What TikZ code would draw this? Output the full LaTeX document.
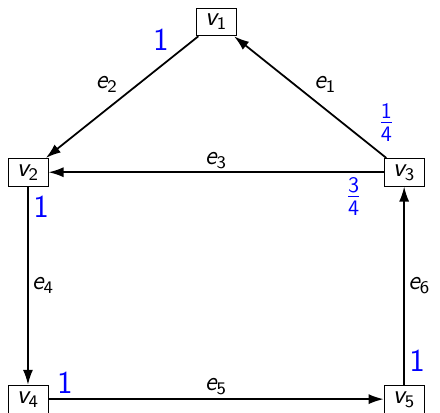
\documentclass[tikz,border=0pt]{standalone}
\usetikzlibrary{arrows,positioning}
\usetikzlibrary{arrows.meta}
% slanted sans letters and upright sans digits in math
\DeclareSymbolFont{sfslanted}{OT1}{cmss}{m}{sl}
\DeclareSymbolFont{sfupright}{OT1}{cmss}{m}{n}
\DeclareMathSymbol{v}{\mathalpha}{sfslanted}{`v}
\DeclareMathSymbol{e}{\mathalpha}{sfslanted}{`e}
\DeclareMathSymbol{1}{\mathalpha}{sfupright}{`1}
\DeclareMathSymbol{2}{\mathalpha}{sfupright}{`2}
\DeclareMathSymbol{3}{\mathalpha}{sfupright}{`3}
\DeclareMathSymbol{4}{\mathalpha}{sfupright}{`4}
\DeclareMathSymbol{5}{\mathalpha}{sfupright}{`5}
\DeclareMathSymbol{6}{\mathalpha}{sfupright}{`6}
\tikzset{
vertex/.style={rectangle, draw, fill=white, font=\large, inner xsep=4pt, inner ysep=2.5pt, minimum height=0.44cm},
edge_line/.style={-{Latex[length=2.4mm,width=1.6mm]}, thick},
edge_name/.style={font=\large, inner sep=1.5pt},
weight/.style={text=blue, font=\Large\sffamily, inner sep=2pt}
}
\begin{document}
\begin{tikzpicture}
    \useasboundingbox (0,0) rectangle (7,6.57);
    \node[vertex] (v1) at (3.44,6.22) {$v_1$};
    \node[vertex] (v2) at (0.445,3.83) {$v_2$};
    \node[vertex] (v3) at (6.43,3.83) {$v_3$};
    \node[vertex] (v4) at (0.445,0.22) {$v_4$};
    \node[vertex] (v5) at (6.43,0.22) {$v_5$};
    \draw[edge_line] (v3) -- node[edge_name, above right] {$e_1$} node[pos=0.0, weight, above=5pt] {$\frac{1}{4}$} (v1);
    \draw[edge_line] (v1) -- node[edge_name, above left] {$e_2$} node[pos=0.16, weight, above left] {1} (v2);
    \draw[edge_line] (v3) -- node[edge_name, above] {$e_3$} node[pos=0.09, weight, below] {$\frac{3}{4}$} (v2);
    \draw[edge_line] (v2) -- node[edge_name, right] {$e_4$} node[pos=0.1, weight, right] {1} (v4);
    \draw[edge_line] (v4) -- node[edge_name, above] {$e_5$} node[pos=0.01, weight, above right] {1} (v5);
    \draw[edge_line] (v5) -- node[edge_name, right] {$e_6$} node[pos=0.12, weight, right] {1} (v3);
\end{tikzpicture}
\end{document}
